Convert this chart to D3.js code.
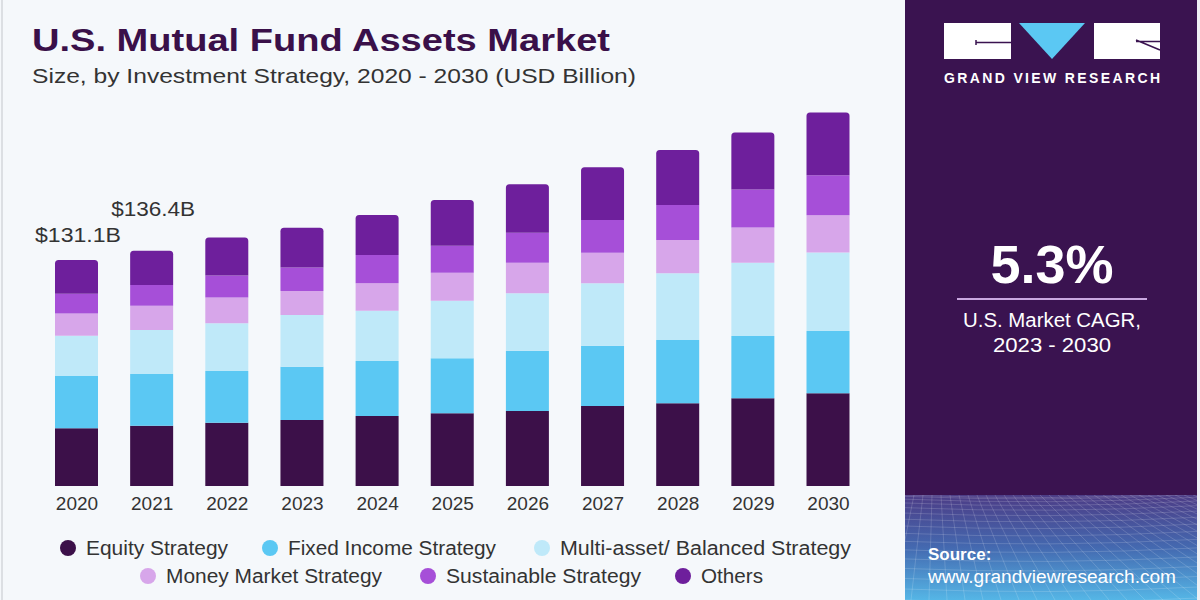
<!DOCTYPE html>
<html><head><meta charset="utf-8">
<script src="https://cdn.jsdelivr.net/npm/d3@7"></script>
<style>html,body{margin:0;padding:0;background:#f5f8fb;}svg{display:block;}</style>
</head><body>
<svg id="c" width="1200" height="600"></svg>
<script>
const years = ["2020","2021","2022","2023","2024","2025","2026","2027","2028","2029","2030"];
const seriesNames = ["Equity Strategy","Fixed Income Strategy","Multi-asset/ Balanced Strategy","Money Market Strategy","Sustainable Strategy","Others"];
const equity = [33.5,35.0,36.7,38.3,40.6,42.2,43.5,46.4,48.0,50.9,53.8];
const fixedIncome = [30.3,30.0,30.0,30.9,31.9,31.9,35.0,35.0,36.7,36.1,36.1];
const multiAsset = [23.4,25.5,27.7,30.0,29.2,33.4,33.3,36.2,38.7,42.5,45.6];
const moneyMarket = [12.9,14.1,14.9,13.9,15.9,16.2,17.7,17.7,19.3,20.5,21.6];
const sustainable = [11.4,12.0,12.8,13.7,16.4,15.7,17.4,19.0,20.3,22.0,23.2];
const others = [19.6,19.8,22.0,23.0,23.2,26.5,28.1,30.6,31.9,33.1,36.4];
const valueLabels = ["$131.1B","$136.4B"];
const colors = ["#3c1049","#5bc8f3","#bfe9f9","#d7a6ea","#a64fd8","#6e1f9c"];

const svg = d3.select("#c");
const FONT = "'Liberation Sans', Arial, sans-serif";

// background
svg.append("rect").attr("width",1200).attr("height",600).attr("fill","#f5f8fb");
svg.append("rect").attr("x",1).attr("y",0).attr("width",2).attr("height",600).attr("fill","#dcdfe3");

// title
svg.append("text").attr("x",32).attr("y",51).attr("font-family",FONT).attr("font-weight","bold")
  .attr("font-size",32).attr("fill","#3a1049").attr("textLength",578).attr("lengthAdjust","spacingAndGlyphs")
  .text("U.S. Mutual Fund Assets Market");
svg.append("text").attr("x",32).attr("y",83).attr("font-family",FONT)
  .attr("font-size",21).attr("fill","#333").attr("textLength",604).attr("lengthAdjust","spacingAndGlyphs")
  .text("Size, by Investment Strategy, 2020 - 2030 (USD Billion)");

// data stacking
const rows = years.map((y,i)=>({year:y,s0:equity[i],s1:fixedIncome[i],s2:multiAsset[i],s3:moneyMarket[i],s4:sustainable[i],s5:others[i]}));
const keys = ["s0","s1","s2","s3","s4","s5"];
const stack = d3.stack().keys(keys)(rows);

const x = d3.scalePoint().domain(years).range([76.5, 828]);
const y = d3.scaleLinear().domain([0,230]).range([486, 89.5]);
const bw = 43;

const g = svg.append("g");
stack.forEach((layer,li)=>{
  g.selectAll(null).data(layer).enter().append("path")
    .attr("fill",colors[li])
    .attr("d",d=>{
      const x0 = x(d.data.year)-bw/2, x1 = x0+bw;
      const yt = y(d[1]), yb = y(d[0]);
      if(li===keys.length-1){
        const r=3.5;
        return `M${x0},${yb}L${x0},${yt+r}Q${x0},${yt} ${x0+r},${yt}L${x1-r},${yt}Q${x1},${yt} ${x1},${yt+r}L${x1},${yb}Z`;
      }
      return `M${x0},${yb}L${x0},${yt}L${x1},${yt}L${x1},${yb}Z`;
    });
});

// x axis labels
const xAxis = d3.axisBottom(x).tickSize(0).tickPadding(7);
const ax = svg.append("g").attr("transform","translate(0,490)").call(xAxis);
ax.select(".domain").remove();
ax.selectAll("text").attr("font-family",FONT).attr("font-size",19).attr("fill","#333");

// value labels
const labelOffsets = [18,35];
const labelWidths = [86,84];
valueLabels.forEach((t,i)=>{
  const tot = d3.sum(keys, k=>rows[i][k]);
  svg.append("text").attr("x",x(years[i])+1.5).attr("y",y(tot)-labelOffsets[i])
    .attr("text-anchor","middle").attr("font-family",FONT).attr("font-size",20).attr("fill","#333")
    .attr("textLength",labelWidths[i]).attr("lengthAdjust","spacingAndGlyphs").text(t);
});

// legend
const legendPos = [[68,548],[270,548],[542,548],[148,576],[428,576],[683,576]];
const legendWidths = [142,208,291,216,195,62];
seriesNames.forEach((n,i)=>{
  const [lx,ly] = legendPos[i];
  svg.append("circle").attr("cx",lx).attr("cy",ly).attr("r",8).attr("fill",colors[i]);
  svg.append("text").attr("x",lx+18).attr("y",ly+7).attr("font-family",FONT).attr("font-size",20).attr("fill","#333")
    .attr("textLength",legendWidths[i]).attr("lengthAdjust","spacingAndGlyphs").text(n);
});

// right panel
const defs = svg.append("defs");
const grad = defs.append("linearGradient").attr("id","pg").attr("x1",0).attr("y1",0).attr("x2",0).attr("y2",1);
grad.append("stop").attr("offset","0%").attr("stop-color","#4c3c86");
grad.append("stop").attr("offset","50%").attr("stop-color","#4469b0");
grad.append("stop").attr("offset","100%").attr("stop-color","#55b6e6");
defs.append("clipPath").attr("id","pc").append("rect").attr("x",905).attr("y",495).attr("width",292).attr("height",105);

svg.append("rect").attr("x",905).attr("y",0).attr("width",292).attr("height",600).attr("fill","#3a1350");
svg.append("rect").attr("x",905).attr("y",495).attr("width",292).attr("height",105).attr("fill","url(#pg)");
svg.append("rect").attr("x",1197).attr("y",0).attr("width",3).attr("height",600).attr("fill","#eef0f4");

// perspective grid
const grid = svg.append("g").attr("clip-path","url(#pc)").attr("stroke","#ffffff").attr("stroke-opacity",0.2).attr("stroke-width",0.8).attr("fill","none");
d3.range(-20,40).forEach(i=>{
  const xt = 905 + i*9, xb = 905 + (i-10)*18 + 150;
  grid.append("line").attr("x1",xt).attr("y1",495).attr("x2",xb).attr("y2",600);
});
d3.range(0,16).forEach(i=>{
  const yy = 495 + Math.pow(i/15,1.6)*105;
  grid.append("path").attr("d",`M905,${yy}Q1050,${yy+6} 1197,${yy-2}`);
});

// logo
svg.append("rect").attr("x",944).attr("y",23).attr("width",67).attr("height",36).attr("fill","#ffffff");
svg.append("path").attr("d","M976,40L976,45M976,42.5L1011,42.5").attr("stroke","#3a1350").attr("stroke-width",1.5);
svg.append("path").attr("d","M1019,23L1085,23L1052,59Z").attr("fill","#5bc8f3");
svg.append("rect").attr("x",1094).attr("y",23).attr("width",66).attr("height",36).attr("fill","#ffffff");
svg.append("path").attr("d","M1136,40L1160,50M1136,41.5L1160,41.5").attr("stroke","#3a1350").attr("stroke-width",1.5);
svg.append("text").attr("x",944).attr("y",83).attr("font-family",FONT).attr("font-weight","bold").attr("font-size",14)
  .attr("fill","#ffffff").attr("textLength",216).attr("lengthAdjust","spacing").text("GRAND VIEW RESEARCH");

// CAGR
svg.append("text").attr("x",1052).attr("y",283).attr("text-anchor","middle").attr("font-family",FONT).attr("font-weight","bold")
  .attr("font-size",53).attr("fill","#ffffff").attr("textLength",123).attr("lengthAdjust","spacingAndGlyphs").text("5.3%");
svg.append("line").attr("x1",957).attr("x2",1147).attr("y1",299).attr("y2",299).attr("stroke","#c9a8e0").attr("stroke-width",2);
svg.append("text").attr("x",1052).attr("y",327).attr("text-anchor","middle").attr("font-family",FONT)
  .attr("font-size",20).attr("fill","#ffffff").attr("textLength",178).attr("lengthAdjust","spacingAndGlyphs").text("U.S. Market CAGR,");
svg.append("text").attr("x",1052).attr("y",352).attr("text-anchor","middle").attr("font-family",FONT)
  .attr("font-size",20).attr("fill","#ffffff").attr("textLength",118).attr("lengthAdjust","spacingAndGlyphs").text("2023 - 2030");

// source
svg.append("text").attr("x",928).attr("y",560).attr("font-family",FONT).attr("font-weight","bold")
  .attr("font-size",17).attr("fill","#ffffff").text("Source:");
svg.append("text").attr("x",928).attr("y",583).attr("font-family",FONT)
  .attr("font-size",18).attr("fill","#ffffff").attr("textLength",248).attr("lengthAdjust","spacingAndGlyphs").text("www.grandviewresearch.com");
</script>
</body></html>
